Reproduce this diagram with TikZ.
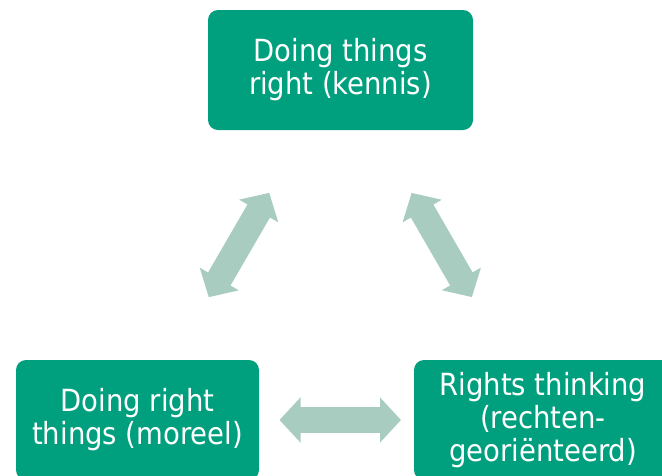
\documentclass[tikz,border=0pt]{standalone}
\usepackage{fontspec}
\newfontfamily\boxfont{DejaVu Sans Condensed}
\usetikzlibrary{arrows.meta}
\definecolor{boxgreen}{RGB}{0,160,127}
\definecolor{arrowgreen}{RGB}{168,205,192}
\begin{document}
\begin{tikzpicture}[x=1pt,y=-1pt,
  box/.style={fill=boxgreen, rounded corners=10pt, minimum width=#1, minimum height=120pt,
    inner sep=0pt, text=white, align=center,
    font=\boxfont\fontsize{30.5}{33}\selectfont},
  link/.style={draw=arrowgreen, line width=26pt,
    {Triangle[width=44pt,length=21pt]}-{Triangle[width=44pt,length=21pt]},
    shorten <=142pt, shorten >=142pt}]
\useasboundingbox (0,0) rectangle (662,475);
\node[box=265pt] (top) at (340.5,70) {Doing things\\right (kennis)};
\node[box=243pt] (bl) at (137.5,420) {Doing right\\things (moreel)};
\node[box=258pt] (br) at (543,420) {Rights thinking\\(rechten-\\georiënteerd)};
\draw[link] (top.center) -- (bl.center);
\draw[link] (top.center) -- (br.center);
\draw[link] (bl.center) -- (br.center);
\end{tikzpicture}
\end{document}
